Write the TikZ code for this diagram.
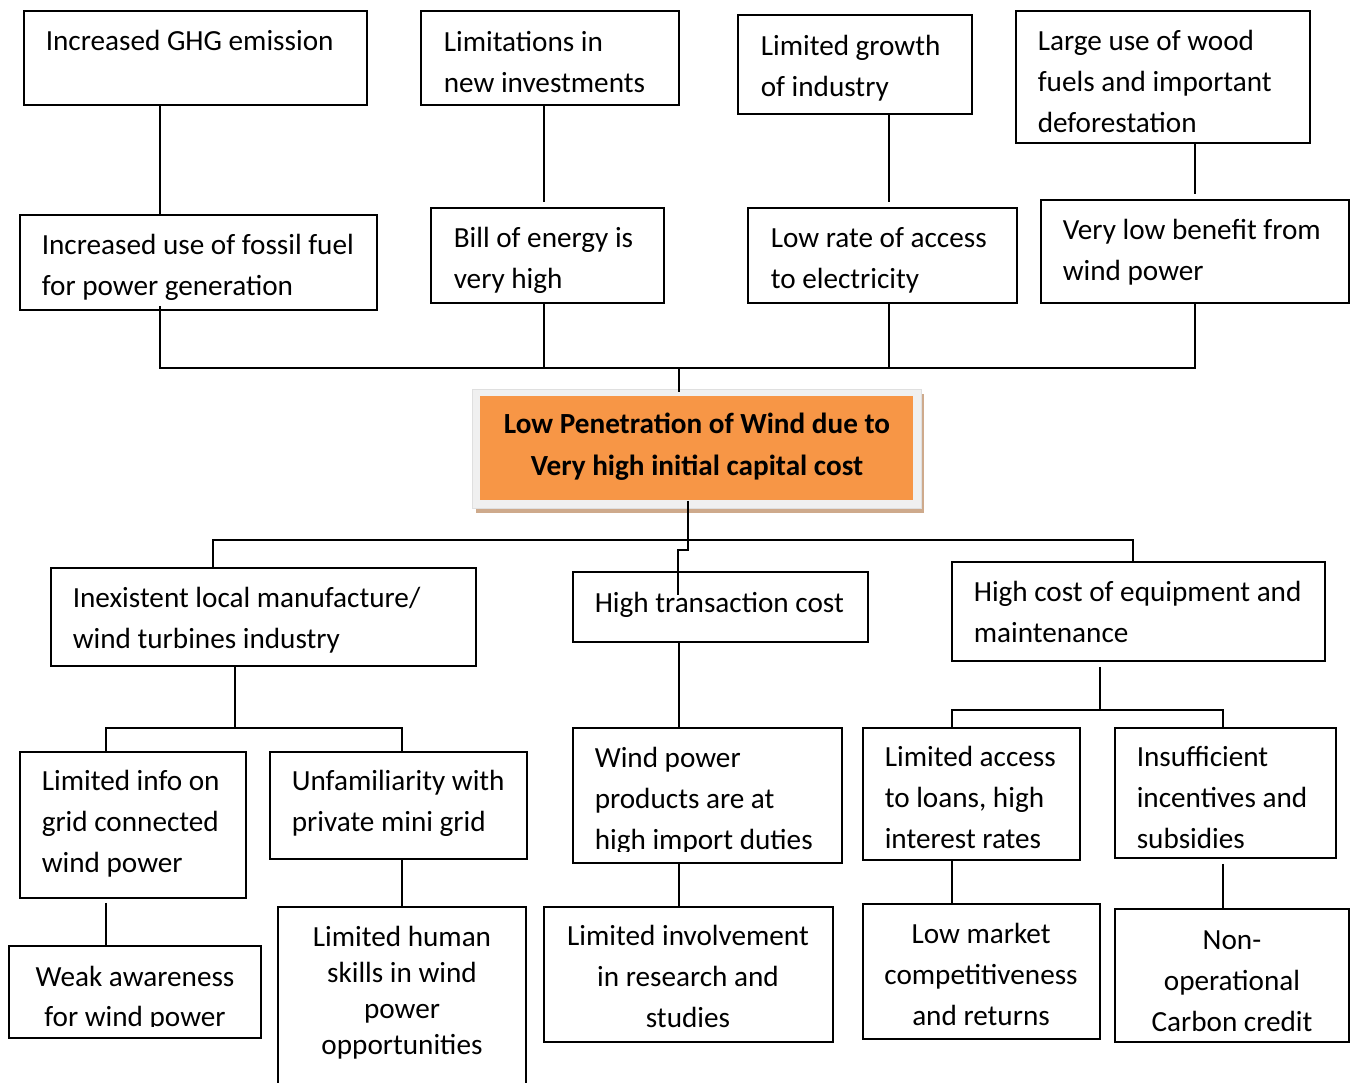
\documentclass[tikz,border=0pt]{standalone}
\usepackage{fontspec}
\setmainfont{Carlito}
\usetikzlibrary{fit}
\definecolor{orng}{HTML}{F79646}
\definecolor{framegray}{HTML}{F0F0F0}
\definecolor{shadowtan}{RGB}{206,170,140}
\newcommand\LL[2][41pt]{\vtop{\baselineskip=#1\lineskiplimit=-50pt\halign{##\hfil\cr#2\crcr}}}
\newcommand\CL[2][41pt]{\vtop{\baselineskip=#1\lineskiplimit=-50pt\halign{\hfil##\hfil\cr#2\crcr}}}
\begin{document}
\begin{tikzpicture}[x=1pt,y=-1pt,line width=1.6pt,
  box/.style={draw=black,inner sep=0pt},
  txt/.style={inner sep=0pt,anchor=base west,yshift=-1.5pt,font=\fontsize{29.2}{41}\selectfont},
  ctxt/.style={inner sep=0pt,anchor=base,yshift=-1.5pt,font=\fontsize{29.2}{41}\selectfont},
  link/.style={draw=black,line width=1.6pt}]
\useasboundingbox (0,0) rectangle (1353,1083);
\fill[white] (0,0) rectangle (1353,1083);
% column coordinates
\coordinate (k106) at (106,0);
\coordinate (k160) at (160,0);
\coordinate (k213) at (213,0);
\coordinate (k235) at (235,0);
\coordinate (k402) at (402,0);
\coordinate (k544) at (544,0);
\coordinate (k679) at (679,0);
\coordinate (k688) at (688,0);
\coordinate (k889) at (889,0);
\coordinate (k952) at (952,0);
\coordinate (k1100) at (1100,0);
\coordinate (k1133) at (1133,0);
\coordinate (k1195) at (1195,0);
\coordinate (k1223) at (1223,0);
\coordinate (busT) at (0,368);
\coordinate (busM) at (0,540);
\coordinate (busL) at (0,728);
\coordinate (busR) at (0,710);
\coordinate (jogA) at (688,550);
\coordinate (jogB) at (678,550);
\coordinate (jogEnd) at (678,595);

% ---------- top row ----------
\node[box,fit={(24,11)(367,105)}] (a1) {};
\node[txt] (a1t) at (45,49) {\LL{Increased GHG emission}};
\node[box,fit={(421,11)(679,105)}] (a2) {};
\node[txt] (a2t) at (443,50) {\LL{Limitations in\cr new investments}};
\node[box,fit={(738,15)(972,114)}] (a3) {};
\node[txt] (a3t) at (760,54) {\LL{Limited growth\cr of industry}};
\node[box,fit={(1016,11)(1310,143)}] (a4) {};
\node[txt] (a4t) at (1037,49) {\LL{Large use of wood\cr fuels and important\cr deforestation}};

% ---------- second row ----------
\node[box,fit={(20,215)(377,310)}] (b1) {};
\node[txt] (b1t) at (41,253) {\LL{Increased use of fossil fuel\cr for power generation}};
\node[box,fit={(431,208)(664,303)}] (b2) {};
\node[txt] (b2t) at (453,246) {\LL{Bill of energy is\cr very high}};
\node[box,fit={(748,208)(1017,303)}] (b3) {};
\node[txt] (b3t) at (770,246) {\LL{Low rate of access\cr to electricity}};
\node[box,fit={(1041,200)(1349,303)}] (b4) {};
\node[txt] (b4t) at (1062,238) {\LL{Very low benefit from\cr wind power}};

% ---------- central problem ----------
\node[fill=shadowtan,inner sep=0pt,fit={(476,394)(924,513)}] (shadow) {};
\node[fill=framegray,draw=framegray!85!gray,line width=0.6pt,inner sep=0pt,fit={(472,389)(921,508)}] (frame) {};
\node[fill=orng,inner sep=0pt,fit={(480,396)(913,500)}] (core) {};
\node[ctxt,font=\fontsize{29.2}{42}\selectfont\bfseries] (coret) at (697,432) {\CL[42pt]{Low Penetration of Wind due to\cr Very high initial capital cost}};

% ---------- third row ----------
\node[box,fit={(51,568)(476,666)}] (c1) {};
\node[txt] (c1t) at (72,606) {\LL{Inexistent local manufacture/\cr wind turbines industry}};
\node[box,fit={(573,572)(868,642)}] (c2) {};
\node[txt] (c2t) at (594,611) {\LL{High transaction cost}};
\node[box,fit={(952,562)(1325,661)}] (c3) {};
\node[txt] (c3t) at (973,600) {\LL{High cost of equipment and\cr maintenance}};

% ---------- fourth row ----------
\node[box,fit={(20,752)(246,898)}] (d1) {};
\node[txt] (d1t) at (41,789) {\LL{Limited info on\cr grid connected\cr wind power}};
\node[box,fit={(270,752)(527,859)}] (d2) {};
\node[txt] (d2t) at (291,789) {\LL{Unfamiliarity with\cr private mini grid}};
\node[box,fit={(573,728)(842,863)}] (d3) {};
\begin{scope}
\clip (573,728) rectangle (842,851);
\node[txt] (d3t) at (594,766) {\LL{Wind power\cr products are at\cr high import duties}};
\end{scope}
\node[box,fit={(863,728)(1080,860)}] (d4) {};
\node[txt] (d4t) at (884,765) {\LL{Limited access\cr to loans, high\cr interest rates}};
\node[box,fit={(1115,728)(1336,858)}] (d5) {};
\begin{scope}
\clip (1115,728) rectangle (1336,849);
\node[txt] (d5t) at (1136,765) {\LL{Insufficient\cr incentives and\cr subsidies}};
\end{scope}

% ---------- bottom row ----------
\node[box,fit={(9,946)(261,1038)}] (e1) {};
\begin{scope}
\clip (9,946) rectangle (261,1026);
\node[ctxt] (e1t) at (135,985) {\CL[40pt]{Weak awareness\cr for wind power}};
\end{scope}
\node[box,fit={(278,907)(526,1090)}] (e2) {};
\node[ctxt] (e2t) at (402,945) {\CL[36pt]{Limited human\cr skills in wind\cr power\cr opportunities}};
\node[box,fit={(544,907)(833,1042)}] (e3) {};
\node[ctxt] (e3t) at (688,944) {\CL{Limited involvement\cr in research and\cr studies}};
\node[box,fit={(863,904)(1100,1039)}] (e4) {};
\node[ctxt] (e4t) at (981,942) {\CL{Low market\cr competitiveness\cr and returns}};
\node[box,fit={(1115,909)(1349,1042)}] (e5) {};
\node[ctxt] (e5t) at (1232,948) {\CL{Non-\cr operational\cr Carbon credit}};

% ---------- connectors: upper tree ----------
\draw[link] (a1.south -| k160) -- (b1.north -| k160);
\draw[link] (a2.south -| k544) -- ([yshift=5pt]b2.north -| k544);
\draw[link] (a3.south -| k889) -- ([yshift=5pt]b3.north -| k889);
\draw[link] (a4.south -| k1195) -- ([yshift=5pt]b4.north -| k1195);
\draw[link] ([yshift=5pt]b1.south -| k160) -- (busT -| k160) -- (busT -| k1195) -- (b4.south -| k1195);
\draw[link] (b2.south -| k544) -- (busT -| k544);
\draw[link] (b3.south -| k889) -- (busT -| k889);
\draw[link] (busT -| k679) -- ([yshift=-3pt]frame.north -| k679);

% ---------- connectors: lower tree ----------
\draw[link] (core.south -| k688) -- (jogA) -- (jogB) -- (jogEnd);
\draw[link] (c1.north -| k213) -- (busM -| k213) -- (busM -| k1133) -- (c3.north -| k1133);
\draw[link] (c1.south -| k235) -- (busL -| k235);
\draw[link] (d1.north -| k106) -- (busL -| k106) -- (busL -| k402) -- (d2.north -| k402);
\draw[link] (c2.south -| k679) -- (d3.north -| k679);
\draw[link] ([yshift=-5pt]c3.south -| k1100) -- (busR -| k1100);
\draw[link] (d4.north -| k952) -- (busR -| k952) -- (busR -| k1223) -- (d5.north -| k1223);
\draw[link] ([yshift=-4pt]d1.south -| k106) -- (e1.north -| k106);
\draw[link] (d2.south -| k402) -- (e2.north -| k402);
\draw[link] (d3.south -| k679) -- (e3.north -| k679);
\draw[link] (d4.south -| k952) -- (e4.north -| k952);
\draw[link] ([yshift=-5pt]d5.south -| k1223) -- (e5.north -| k1223);
\end{tikzpicture}
\end{document}
